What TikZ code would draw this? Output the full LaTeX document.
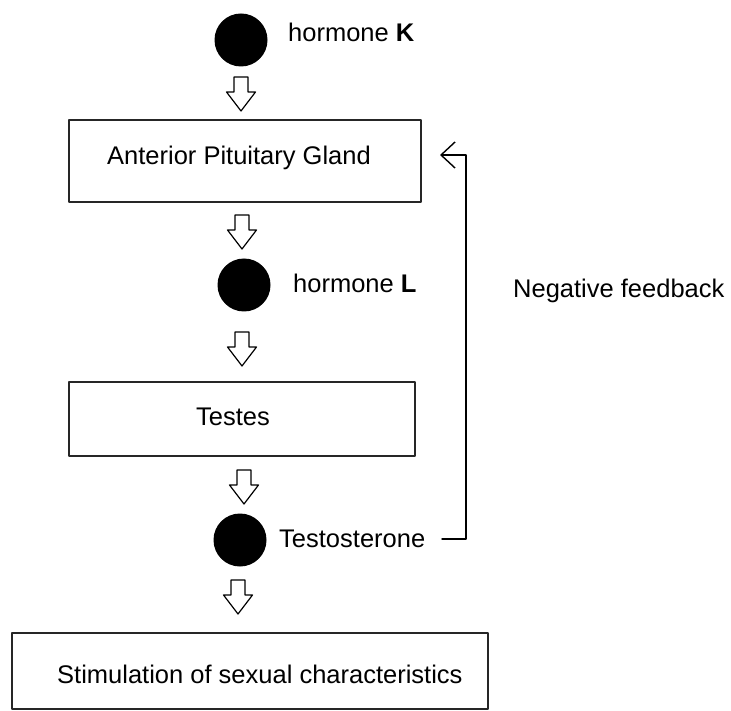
\documentclass[tikz,border=0pt]{standalone}
\usepackage{fontspec}
\setmainfont{Liberation Sans}
\usetikzlibrary{arrows.meta}
\begin{document}
\begin{tikzpicture}[x=1pt, y=-1pt, line join=round, line cap=round,
	box/.style={draw, line width=1.6pt, draw=black!85, inner sep=0pt},
	lbl/.style={anchor=base west, inner sep=0pt},
	fb/.style={line width=1.4pt, -{Straight Barb[length=14pt,width=26pt,line width=1.4pt]}},
	font=\fontsize{25.5}{30}\selectfont]
				\useasboundingbox (0,0) rectangle (731,711);
				\coordinate (K) at (241,40);
				\coordinate (L) at (244,285);
				\coordinate (T) at (240,540);
				\foreach \hor in {K,L,T}	\fill (\hor) circle(26.5pt);
				\node[lbl] (hK) at (288,42) {hormone \textbf{K}};
				\node[lbl] (hL) at (293,293) {hormone \textbf{L}};
				\node[lbl] (hT) at (279,547) {Testosterone};
				% boxes
				\node[box, minimum width=352, minimum height=82] (apg) at (245,161) {};
				\node[box, minimum width=346, minimum height=74] (testes) at (242,419) {};
				\node[box, minimum width=476, minimum height=76] (stim) at (250,671) {};
				\node[lbl] (apgtxt) at (107,165) {Anterior Pituitary Gland};
				\node[lbl] (testestxt) at (196,425) {Testes};
				\node[lbl] (stimtxt) at (57,683) {Stimulation of sexual characteristics};
				% block arrows (top centre)
				\foreach \ax/\ay in {241/77, 242/215, 242/332, 244/470, 238/580}
					\draw[line width=1.2pt] (\ax-7,\ay) -- (\ax+7,\ay) -- (\ax+7,\ay+15) -- (\ax+14.5,\ay+15)
						-- (\ax,\ay+34) -- (\ax-14.5,\ay+15) -- (\ax-7,\ay+15) -- cycle;
				% feedback loop
				\coordinate (fbstart) at (442,539);
				\coordinate (fbend) at (440,155);
				\draw[fb] (fbstart) -- ++(24,0) |- (fbend);
				\node[lbl] (neg) at (513,298) {Negative feedback};
			\end{tikzpicture}
\end{document}
